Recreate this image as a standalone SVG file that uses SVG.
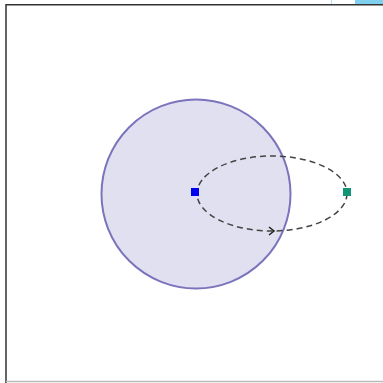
<svg xmlns="http://www.w3.org/2000/svg" width="383" height="383" viewBox="0 0 383 383">
<style>
.frame{fill:none;stroke:#333;stroke-width:1.5}
.orbit{fill:none;stroke:#444;stroke-width:1.5;stroke-dasharray:6 4}
</style>
<defs>
<marker id="arr" viewBox="0 0 10 10" refX="6" refY="5" markerWidth="10" markerHeight="10" orient="auto" markerUnits="userSpaceOnUse">
<path d="M1,1 L6,5 L1,9" fill="none" stroke="#222" stroke-width="1.5"/>
</marker>
</defs>
<rect width="383" height="383" fill="#fff"/>
<rect x="355" y="0" width="28" height="4" fill="#7fd0ee"/>
<line x1="331.5" y1="0" x2="331.5" y2="4" stroke="#aee0f4" stroke-width="1"/>
<path class="frame" d="M6,390 L6,4.75 L390,4.75"/>
<line x1="6" y1="381.5" x2="383" y2="381.5" stroke="#bbb" stroke-width="1.5"/>
<g id="body">
<circle cx="196" cy="194" r="94.5" fill="#e1e0f0" stroke="#7b74bd" stroke-width="2"/>
</g>
<g id="connectors">
<ellipse class="orbit" cx="272" cy="193.5" rx="75" ry="37.5"/>
<path d="M262,231 L274,231" fill="none" stroke="none" marker-end="url(#arr)"/>
</g>
<g id="center">
<rect x="191" y="188" width="8" height="8" fill="#0000ee"/>
</g>
<g id="satellite">
<rect x="343" y="188" width="8" height="8" fill="#139477"/>
</g>
</svg>
